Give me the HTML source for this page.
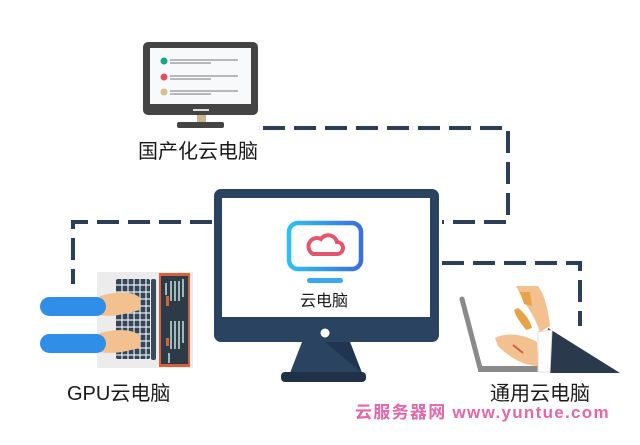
<!DOCTYPE html>
<html><head><meta charset="utf-8"><style>
html,body{margin:0;padding:0;background:#fff;}
body{width:640px;height:445px;overflow:hidden;position:relative;font-family:"Liberation Sans","Noto Sans CJK SC",sans-serif;}
.t{position:absolute;color:#1a1a1a;white-space:nowrap;}
</style></head><body>
<svg width="640" height="445" style="position:absolute;left:0;top:0">
<defs>
<linearGradient id="g" x1="0" x2="1"><stop offset="0" stop-color="#2fc0f0"/><stop offset="1" stop-color="#3a6fe0"/></linearGradient>
</defs>
<g stroke="#2b4058" stroke-width="4" fill="none" stroke-dasharray="22 9">
<path d="M263 128 H508 V222 H442"/>
<path d="M442 263 H580 V326"/>
<path d="M212 222 H73 V284"/>
</g>
<rect x="143" y="42" width="115" height="73" rx="5" fill="#444"/>
<rect x="150" y="48" width="101" height="56" fill="#f8f9fa"/>
<rect x="193" y="109" width="16" height="2" fill="#ddd"/>
<rect x="197" y="115" width="9" height="7" fill="#c9b58a"/>
<rect x="177" y="122" width="47" height="6" rx="2" fill="#444"/>
<circle cx="164" cy="61" r="3.5" fill="#1aa58a"/><circle cx="164" cy="77" r="3.5" fill="#e0505f"/><circle cx="164" cy="92" r="3.5" fill="#d8c088"/>
<g stroke="#777" stroke-width="1"><path d="M170 60H238M170 63H211M170 76H238M170 79H211M170 91H238M170 94H211"/></g>
<rect x="214" y="189" width="225" height="153" rx="7" fill="#2a4360"/>
<rect x="222" y="198" width="208" height="119" fill="#fff"/>
<circle cx="325" cy="333" r="4.5" fill="#fff"/>
<path d="M302 342 H350 L362 373 H290 Z" fill="#2a4360"/>
<path d="M325 342 H350 L362 373 Z" fill="#1f3550"/>
<rect x="281" y="372" width="85" height="10" rx="4" fill="#1f3248"/>
<rect x="289" y="223" width="72" height="46" rx="9" fill="none" stroke="url(#g)" stroke-width="4.5"/>
<rect x="307" y="278" width="36" height="5" rx="2.5" fill="#3aa8ee"/>
<path d="M313 254 h24 a6 6 0 0 0 0-12 a9 9 0 0 0-16-3 a7 7 0 0 0-8 15z" fill="none" stroke="#e5566c" stroke-width="4"/>
<rect x="97" y="272" width="96" height="96" fill="#ececec"/>
<rect x="116" y="279" width="34" height="80" rx="2" fill="#34465a"/>
<g stroke="#ececec" stroke-width="1.2"><path d="M116 285H150M116 292H150M116 299H150M116 306H150M116 313H150M116 320H150M116 327H150M116 334H150M116 341H150M116 348H150M116 355H150M122 279V359M128 279V359M134 279V359M140 279V359M146 279V359"/></g>
<rect x="151" y="279" width="5" height="81" rx="2" fill="#3a4a5c"/>
<rect x="159" y="273" width="31" height="94" fill="#d8603a"/>
<rect x="161" y="276" width="27" height="88" fill="#2d3b48"/>
<g fill="#9fb8b8"><rect x="165" y="283" width="2" height="12"/><rect x="170" y="281" width="2" height="20"/><rect x="174" y="281" width="2" height="20"/><rect x="178" y="281" width="2" height="20"/><rect x="182" y="279" width="2" height="18"/><rect x="170" y="321" width="2" height="28"/><rect x="174" y="321" width="2" height="28"/><rect x="178" y="321" width="2" height="28"/><rect x="182" y="321" width="2" height="22"/><rect x="168" y="353" width="2" height="10"/></g>
<rect x="166" y="296" width="3" height="10" fill="#d8603a"/><rect x="166" y="338" width="3" height="8" fill="#d8603a"/>
<path d="M100 296 C120 290 135 292 140 298 L140 310 C130 312 115 318 100 315Z" fill="#f3c18f"/>
<path d="M100 333 C120 328 135 330 140 336 L140 348 C130 350 115 355 100 352Z" fill="#f3c18f"/>
<rect x="40" y="297" width="66" height="19" rx="9.5" fill="#2f8fe8"/>
<rect x="40" y="334" width="66" height="19" rx="9.5" fill="#2f8fe8"/>
<path d="M462 299 L480 368" stroke="#8a8a8a" stroke-width="5" stroke-linecap="round"/>
<path d="M478 366 H552 V372 H478Z" fill="#8a8a8a"/>
<path d="M548 328 L620 373 H550 Z" fill="#2a3a4c"/>
<path d="M538 332 L552 330 L550 372 L538 372Z" fill="#fff" stroke="#ddd"/>
<path d="M516 286 h22 c6 8 10 22 12 40 l-10 6 c-4-12-10-22-16-30z" fill="#f3c18f"/>
<path d="M520 292 l10 0 l2 14 l-8 -2z" fill="#e8a34a"/>
<path d="M518 308 c6 4 12 12 14 20 l-6 2 c-4-6-10-12-12-20z" fill="#e8a34a"/>
<path d="M495 338 c12-6 28-4 42 4 l1 24 c-14 0-28-8-40-20z" fill="#f3c18f"/>
<path d="M513 345 l10 8" stroke="#d06040" stroke-width="2"/>
</svg>
<div class="t" style="left:138px;top:135px;font-size:20px;">国产化云电脑</div>
<div class="t" style="left:300px;top:287px;font-size:16px;">云电脑</div>
<div class="t" style="left:67px;top:377px;font-size:20px;">GPU云电脑</div>
<div class="t" style="left:490px;top:377px;font-size:20px;">通用云电脑</div>
<div class="t" style="left:355px;top:398px;font-size:17px;font-weight:bold;color:#e466a8;letter-spacing:1.3px;">云服务器网 www.yuntue.com</div>
</body></html>
